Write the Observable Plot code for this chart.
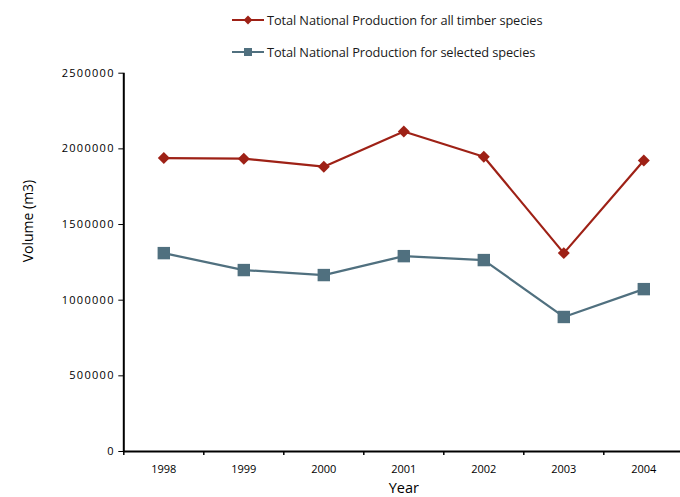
<!DOCTYPE html>
<html>
<head>
<meta charset="utf-8">
<script src="https://cdn.jsdelivr.net/npm/d3@7"></script>
<script src="https://cdn.jsdelivr.net/npm/@observablehq/plot@0.6"></script>
<style>
  html, body { margin: 0; padding: 0; background: #fff; }
  body { width: 680px; height: 497px; overflow: hidden; font-family: "Open Sans", Lato, sans-serif; }
  #legend { position: relative; height: 62px; width: 680px; }
  .item { position: absolute; left: 232px; height: 18px; display: flex; align-items: center; font-size: 12.8px; color: #1a1a1a; white-space: nowrap; letter-spacing: -0.1px; }
  .item svg { display: block; margin-right: 3px; }
  #chart svg { display: block; }
  g[aria-label^="y-axis"] text { letter-spacing: 1.3px; }
</style>
</head>
<body>
<div id="legend"></div>
<div id="chart"></div>
<script>
const years = [1998, 1999, 2000, 2001, 2002, 2003, 2004];
const allTimber = [1939000, 1935000, 1882000, 2115000, 1948000, 1311000, 1923000];
const selectedSpecies = [1311000, 1199000, 1166000, 1291000, 1265000, 889000, 1073000];
const seriesNames = ["Total National Production for all timber species", "Total National Production for selected species"];
const seriesColors = ["#9e2116", "#50707f"];
const seriesSymbols = ["diamond2", "square"];
const yTicks = [0, 500000, 1000000, 1500000, 2000000, 2500000];

const data = [
  ...years.map((y, i) => ({year: y, value: allTimber[i], series: seriesNames[0]})),
  ...years.map((y, i) => ({year: y, value: selectedSpecies[i], series: seriesNames[1]}))
];
const boundaries = [...years.map(y => y - 0.5), years[years.length - 1] + 0.5];

// Legend
const legend = document.getElementById("legend");
const tops = [11, 43];
seriesNames.forEach((name, i) => {
  const item = document.createElement("div");
  item.className = "item";
  item.style.top = tops[i] + "px";
  const ns = "http://www.w3.org/2000/svg";
  const sw = document.createElementNS(ns, "svg");
  sw.setAttribute("width", 32);
  sw.setAttribute("height", 18);
  const ln = document.createElementNS(ns, "line");
  ln.setAttribute("x1", 0); ln.setAttribute("x2", 32);
  ln.setAttribute("y1", 9); ln.setAttribute("y2", 9);
  ln.setAttribute("stroke", seriesColors[i]);
  ln.setAttribute("stroke-width", 2);
  sw.appendChild(ln);
  const mk = document.createElementNS(ns, "path");
  const sym = seriesSymbols[i] === "square" ? d3.symbolSquare : d3.symbolDiamond2;
  mk.setAttribute("d", d3.symbol(sym, seriesSymbols[i] === "square" ? 64 : 50)());
  mk.setAttribute("transform", "translate(16,9)");
  mk.setAttribute("fill", seriesColors[i]);
  sw.appendChild(mk);
  item.appendChild(sw);
  const span = document.createElement("span");
  span.textContent = name;
  item.appendChild(span);
  legend.appendChild(item);
});

const color = {domain: seriesNames, range: seriesColors};

const chart = Plot.plot({
  width: 680,
  height: 435,
  marginLeft: 123.3,
  marginRight: -3.3,
  marginTop: 10.7,
  marginBottom: 46,
  style: {fontFamily: "'Open Sans', Lato, sans-serif", fontSize: "11px", color: "#000", background: "#fff", overflow: "hidden"},
  x: {domain: [1997.5, 2004.5], ticks: years, tickFormat: d => String(d), tickSize: 0, tickPadding: 14, label: null},
  y: {domain: [0, 2500000], ticks: yTicks, tickFormat: d3.format("d"), tickSize: 5, tickPadding: 4, label: null},
  color: color,
  marks: [
    Plot.ruleX(boundaries, {y1: 0, y2: 0, insetBottom: -4, stroke: "#000", strokeWidth: 1.5}),
    Plot.ruleY([0], {stroke: "#000", strokeWidth: 2}),
    Plot.ruleX([1997.5], {stroke: "#000", strokeWidth: 2}),
    Plot.line(data, {x: "year", y: "value", stroke: "series", strokeWidth: 2.2}),
    Plot.dot(data.filter(d => d.series === seriesNames[0]), {x: "year", y: "value", fill: "series", symbol: () => "diamond2", r: 5.4}),
    Plot.dot(data.filter(d => d.series === seriesNames[1]), {x: "year", y: "value", fill: "series", symbol: () => "square", r: 7}),
    Plot.text(["Volume (m3)"], {frameAnchor: "left", dx: -95, rotate: -90, fontSize: 14, fill: "#000"}),
    Plot.text(["Year"], {frameAnchor: "bottom", dy: 41, fontSize: 14.5, fill: "#000"})
  ]
});
document.getElementById("chart").appendChild(chart);
</script>
</body>
</html>
